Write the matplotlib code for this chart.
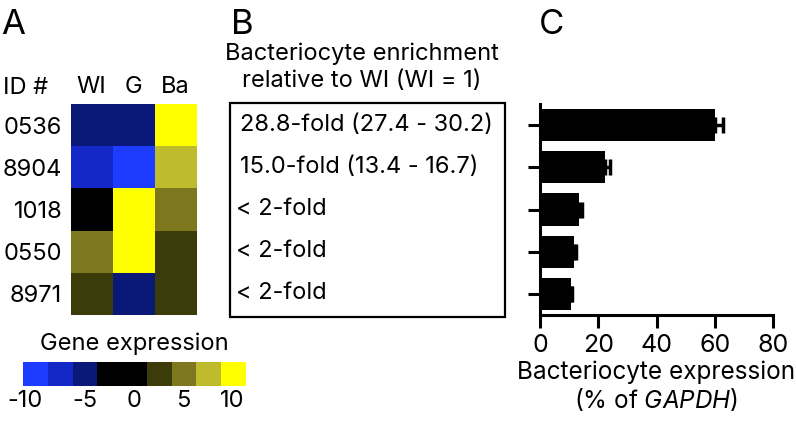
import matplotlib
matplotlib.use("Agg")
from matplotlib import pyplot as plt
from matplotlib.colors import ListedColormap, BoundaryNorm
from matplotlib.patches import Rectangle
from matplotlib.transforms import ScaledTranslation
import numpy as np

plt.rcParams["font.family"] = ["Inter", "DejaVu Sans"]
plt.rcParams["mathtext.fontset"] = "custom"
plt.rcParams["mathtext.it"] = "Inter:italic"
plt.rcParams["mathtext.rm"] = "Inter"

# data
gene_ids = ["0536", "8904", "1018", "0550", "8971"]
tissues = ["WI", "G", "Ba"]
expression = [
    [-5.0, -5.0, 10.0],
    [-7.5, -10.0, 7.5],
    [0.0, 10.0, 5.0],
    [5.0, 10.0, 2.5],
    [2.5, -5.0, 2.5],
]
cbar_levels = [-10, -7.5, -5, -2.5, 0, 2.5, 5, 7.5, 10]
cbar_colors = ["#1e3cff", "#1428c8", "#0a1978", "#000000", "#000000",
               "#3c3c0a", "#7d781e", "#bebb2d", "#ffff00"]
cbar_ticks = [-10, -5, 0, 5, 10]
enrichment = ["28.8-fold (27.4 - 30.2)", "15.0-fold (13.4 - 16.7)",
              "< 2-fold", "< 2-fold", "< 2-fold"]
ba_expr = [60.1, 22.3, 13.5, 11.7, 10.5]
ba_err = [2.8, 1.8, 0.8, 0.6, 0.5]

W, H = 796, 426
FS = 17


def px_axes(fig, x0, y0, x1, y1):
    return fig.add_axes([x0 / W, 1 - y1 / H, (x1 - x0) / W, (y1 - y0) / H])


fig = plt.figure(figsize=(W / 100, H / 100), dpi=100)

# panel A: heatmap
cmap = ListedColormap(cbar_colors)
bounds = np.arange(-11.25, 11.26, 2.5)
norm = BoundaryNorm(bounds, cmap.N)

ax_a = px_axes(fig, 70.7, 104, 196.7, 315)
ax_a.imshow(np.array(expression), cmap=cmap, norm=norm, aspect="auto",
            interpolation="nearest")
ax_a.set_xticks(range(len(tissues)))
ax_a.set_xticklabels(tissues, fontsize=FS)
ax_a.xaxis.tick_top()
ax_a.set_yticks(range(len(gene_ids)))
ax_a.set_yticklabels(gene_ids, fontsize=FS)
ax_a.tick_params(length=0, pad=6)
ax_a.tick_params(axis="x", pad=4)
for s in ax_a.spines.values():
    s.set_visible(False)

fig.text(3 / W, 1 - 88 / H, "ID #", fontsize=FS, va="center", ha="left")
fig.text(1 / W, 1 - 25 / H, "A", fontsize=25, va="center", ha="left")

# colorbar
ax_cb = px_axes(fig, 22.7, 362, 245, 386)
levels = np.array(cbar_levels)
ax_cb.imshow(levels[np.newaxis, :], cmap=cmap, norm=norm, aspect="auto",
             extent=[-11.25, 11.25, 0, 1], interpolation="nearest")
ax_cb.set_xlim(-11.25, 11.25)
ax_cb.set_xticks(cbar_ticks)
ax_cb.set_xticklabels([str(t) for t in cbar_ticks], fontsize=FS)
ax_cb.set_yticks([])
ax_cb.tick_params(length=0, pad=3)
for s in ax_cb.spines.values():
    s.set_visible(False)
# the -10 label sits a bit left of its swatch in the original
lab0 = ax_cb.get_xticklabels()[0]
lab0.set_transform(lab0.get_transform()
                   + ScaledTranslation(-0.1, 0, fig.dpi_scale_trans))
fig.text(134 / W, 1 - 344 / H, "Gene expression", fontsize=FS,
         ha="center", va="center")

# panel B: text box
fig.text(231 / W, 1 - 25 / H, "B", fontsize=25, va="center", ha="left")
fig.text(362 / W, 1 - 54 / H, "Bacteriocyte enrichment", fontsize=FS,
         ha="center", va="center")
fig.text(362 / W, 1 - 81 / H, "relative to WI (WI = 1)", fontsize=FS,
         ha="center", va="center")
fig.patches.append(Rectangle((230 / W, 1 - 316.5 / H), (505 - 230) / W,
                             (316.5 - 103) / H, transform=fig.transFigure,
                             fill=False, lw=1.6, ec="black"))
row_y = [125, 167, 209, 251, 293]
for txt, yy in zip(enrichment, row_y):
    x0 = 240 if txt[0].isdigit() else 236
    fig.text(x0 / W, 1 - yy / H, txt, fontsize=FS, ha="left", va="center")

# panel C: bar chart
fig.text(539 / W, 1 - 25 / H, "C", fontsize=25, va="center", ha="left")
ax_c = px_axes(fig, 540, 104, 773, 315)
ypos = np.arange(len(ba_expr))
ax_c.barh(ypos, ba_expr, height=0.76, color="black")
ax_c.errorbar(ba_expr, ypos, xerr=[np.zeros(len(ba_err)), ba_err],
              fmt="none", ecolor="black", elinewidth=2.5, capsize=6,
              capthick=2.5)
ax_c.set_ylim(4.5, -0.5)
ax_c.set_xlim(0, 80)
ax_c.set_xticks([0, 20, 40, 60, 80])
ax_c.set_yticks(ypos)
ax_c.set_yticklabels([])
ax_c.tick_params(axis="both", direction="out", length=9, width=2.2,
                 labelsize=18)
ax_c.tick_params(axis="x", pad=5)
ax_c.spines["top"].set_visible(False)
ax_c.spines["right"].set_visible(False)
ax_c.spines["left"].set_linewidth(2.2)
ax_c.spines["bottom"].set_linewidth(2.2)
ax_c.set_xlabel("Bacteriocyte expression\n(% of $\\it{GAPDH}$)",
                fontsize=17.5, labelpad=2, linespacing=1.1)

fig.savefig("out.png", dpi=100)
